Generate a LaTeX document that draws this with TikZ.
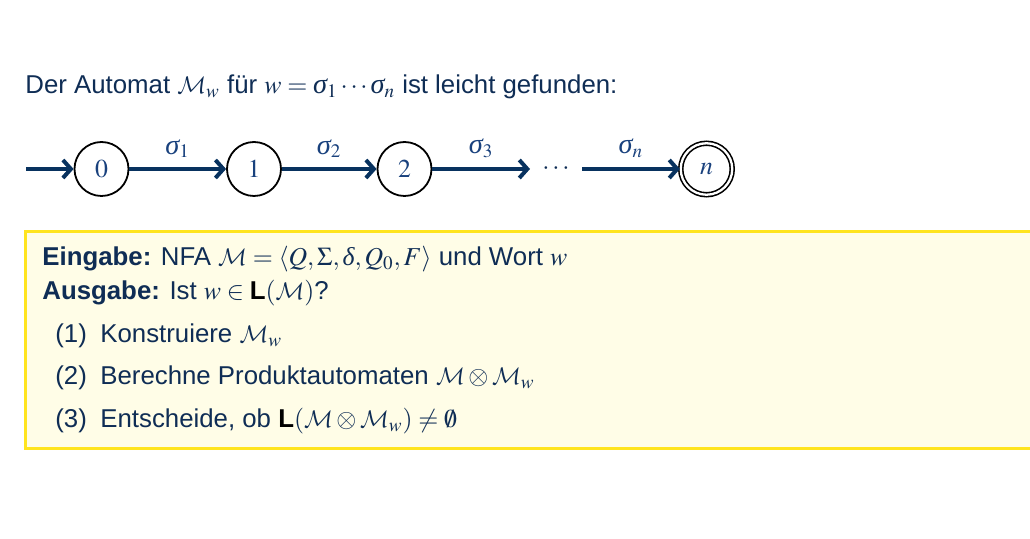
\documentclass[tikz,border=0pt]{standalone}
\usepackage{mathptmx}
\usepackage[no-math]{fontspec}
\setmainfont{Liberation Sans}
\newfontfamily\tms{Liberation Serif}
\DeclareMathAlphabet{\mathcal}{OMS}{cmsy}{m}{n}
\usetikzlibrary{arrows.meta}
\definecolor{txt}{RGB}{15,45,85}
\definecolor{arr}{RGB}{8,50,95}
\definecolor{mth}{RGB}{25,65,125}
\definecolor{boxfill}{RGB}{255,253,231}
\definecolor{boxline}{RGB}{255,228,30}
\newcommand{\Lsym}{\textcolor{black}{\textbf{L}}}
\newcommand{\sig}{\mbox{\tms\itshape\fontsize{14.2}{16}\selectfont σ}}
\newcommand{\dlt}{\mbox{\tms\itshape δ}}
\newcommand{\bigfont}{\fontsize{12.9}{15.5}\selectfont}
\begin{document}
\begin{tikzpicture}[x=0.5pt,y=-0.5pt,
  state/.style={circle,draw=black,line width=0.9pt,minimum size=27pt,inner sep=0pt,font=\bigfont,text=mth},
  accst/.style={state,double=white,double distance=1.15pt,line width=0.8pt,minimum size=25.75pt},
  trans/.style={draw=arr,line width=2pt,-{Straight Barb[length=4pt,width=9pt]}},
  lbl/.style={font=\bigfont,text=mth,inner sep=0pt},
  line/.style={anchor=base west,inner sep=0pt,text=txt,font=\bigfont},
  infobox/.style={fill=boxfill,draw=boxline,line width=1.5pt}
]
\useasboundingbox (0,0) rectangle (1030,539);

\node[line] (title) at (25,94) {Der Automat $\mathcal{M}_w$ für $w=\sig_1\cdots\sig_n$ ist leicht gefunden:};

\node[state] (q0) at (101.5,169) {$0$};
\node[state] (q1) at (254,169) {$1$};
\node[state] (q2) at (404.5,169) {$2$};
\node[accst] (qn) at (706.5,169) {$n$};
\coordinate (start) at (26,169);
\coordinate (dl) at (530,169);
\coordinate (dr) at (582,169);
\node[anchor=base,inner sep=0pt,font=\bigfont,text=txt] (dots) at (556,175) {$\cdots$};

\draw[trans] (start) -- (q0);
\draw[trans] (q0) -- node[lbl,above=4.5pt] (l1) {$\sig_1$} (q1);
\draw[trans] (q1) -- node[lbl,above=4.5pt] (l2) {$\sig_2$} (q2);
\draw[trans] (q2) -- node[lbl,above=4.5pt] (l3) {$\sig_3$} (dl);
\draw[trans] (dr) -- node[lbl,above=4.5pt] (ln) {$\sig_n$} (qn);

\draw[infobox] (25,232) rectangle (1045,449);

\node[line] (in) at (42,266) {\textbf{Eingabe:} NFA $\mathcal{M}=\langle Q,\Sigma,\dlt,Q_0,F\rangle$ und Wort $w$};
\node[line] (out) at (42,300) {\textbf{Ausgabe:} Ist $w\in\Lsym(\mathcal{M})$?};
\node[line] (n1) at (55,343) {(1)};
\node[line] (s1) at (100,343) {Konstruiere $\mathcal{M}_w$};
\node[line] (n2) at (55,385) {(2)};
\node[line] (s2) at (100,385) {Berechne Produktautomaten $\mathcal{M}\otimes\mathcal{M}_w$};
\node[line] (n3) at (55,428) {(3)};
\node[line] (s3) at (100,428) {Entscheide, ob $\Lsym(\mathcal{M}\otimes\mathcal{M}_w)\neq\emptyset$};
\end{tikzpicture}
\end{document}
